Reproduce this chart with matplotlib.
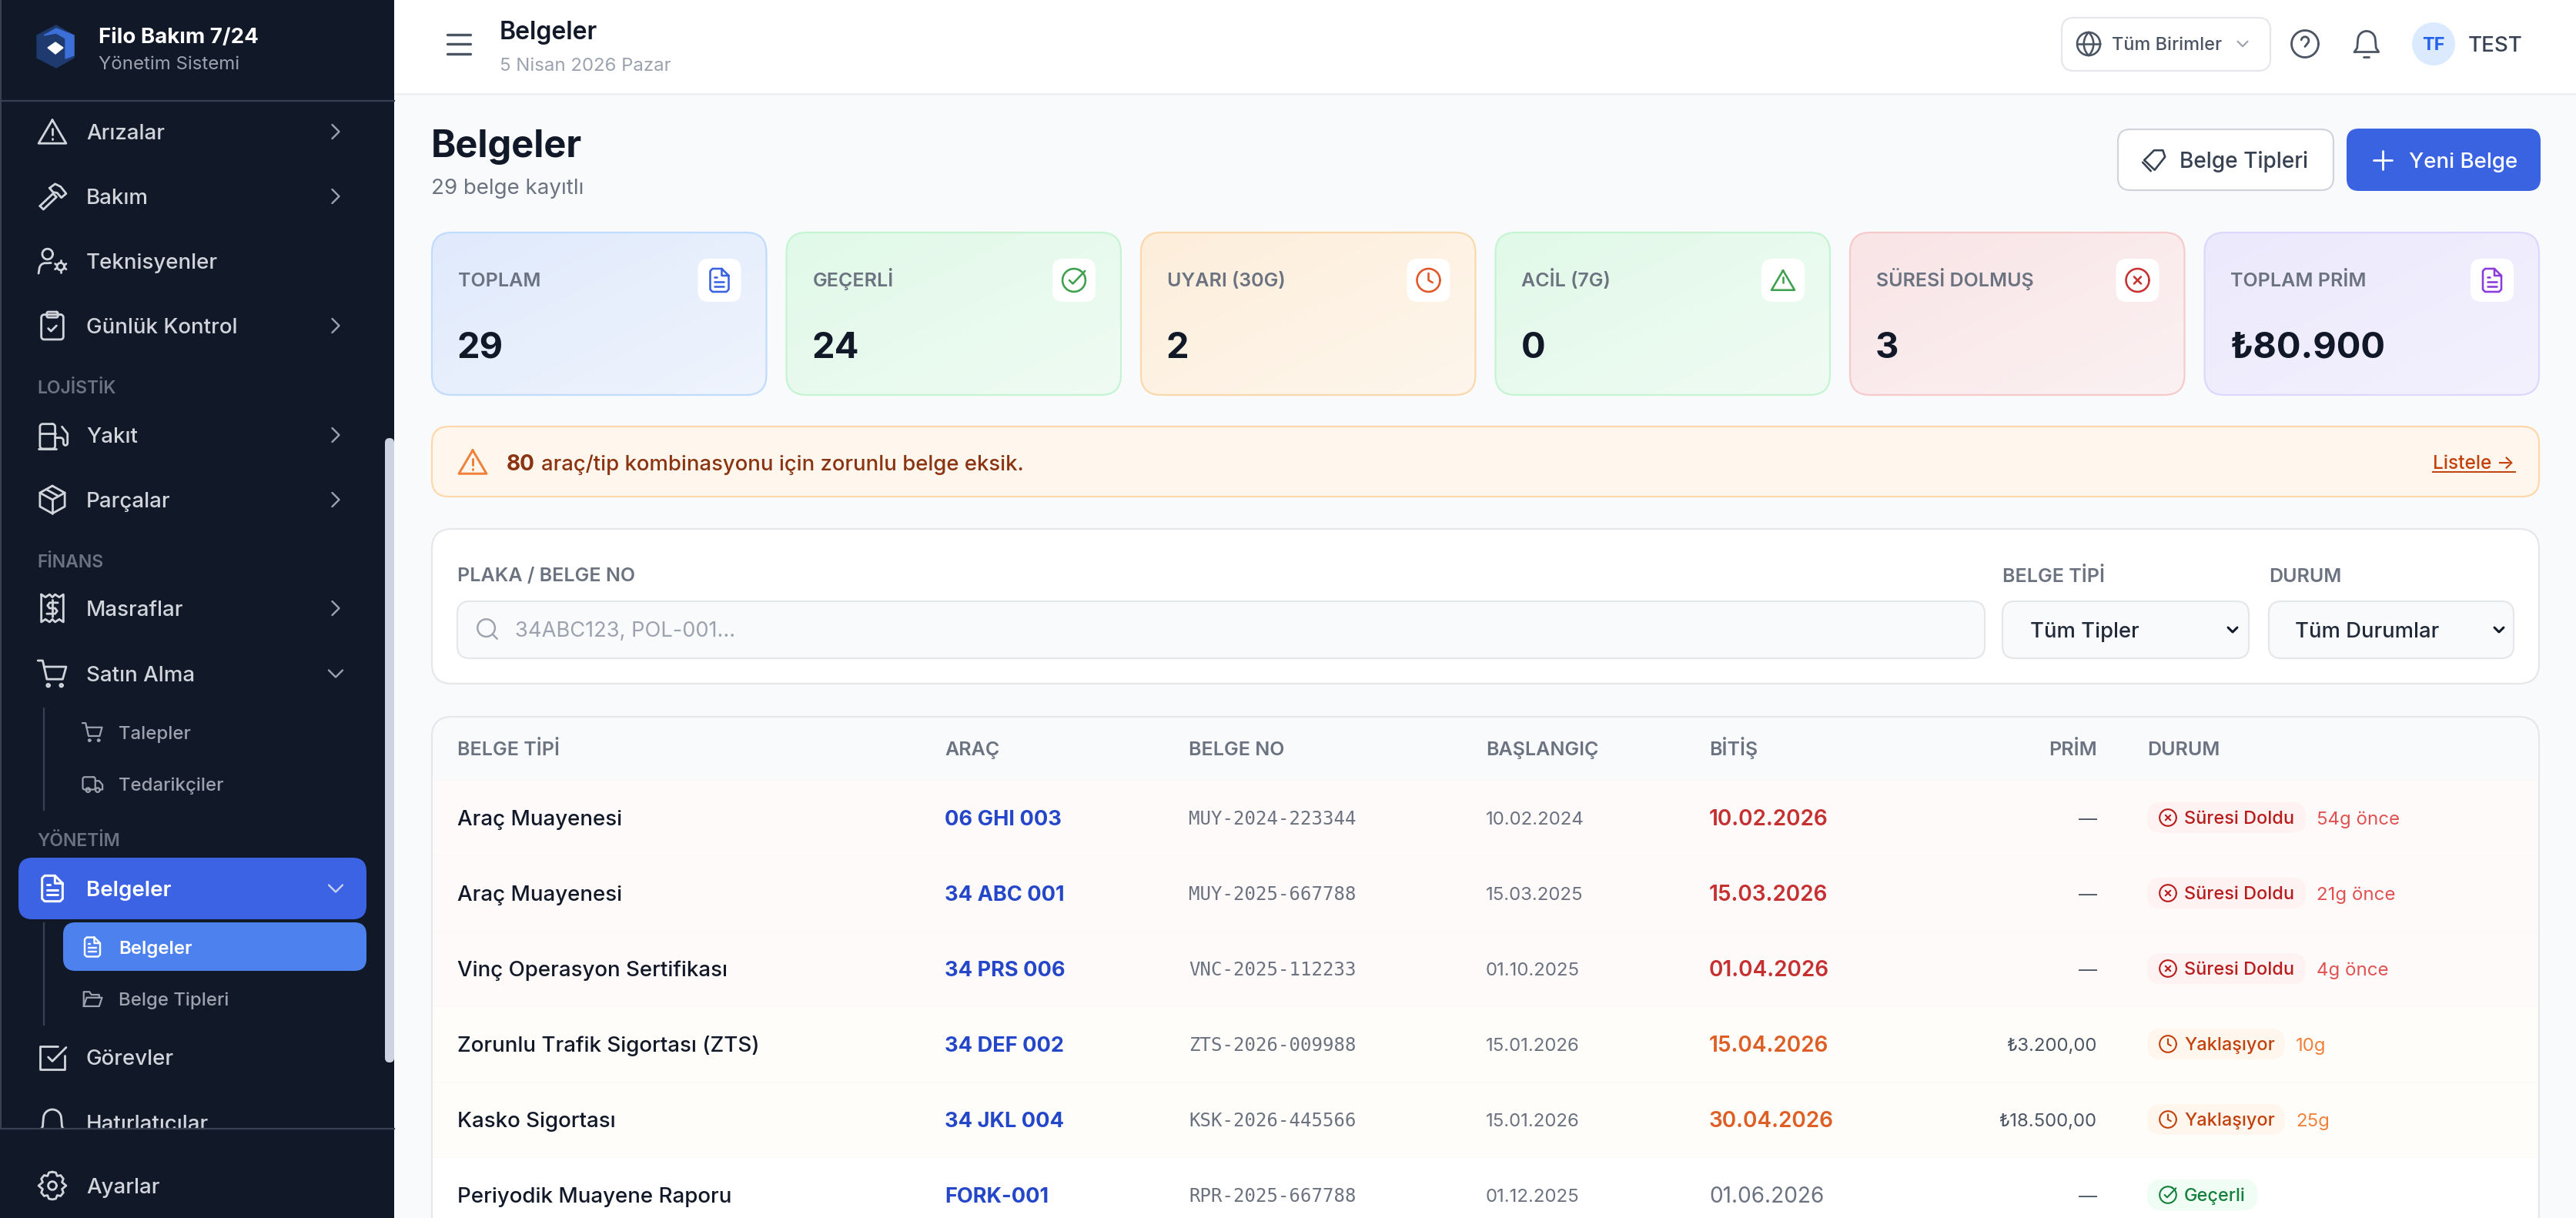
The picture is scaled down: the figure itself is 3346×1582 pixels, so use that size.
import numpy as np
import matplotlib
matplotlib.use('Agg')
import matplotlib.pyplot as plt
from matplotlib.patches import FancyBboxPatch, Circle, Rectangle
from matplotlib.colors import to_rgb

plt.rcParams['font.family'] = ['Inter', 'DejaVu Sans']

# sidebar
nav_labels = ['Arızalar', 'Bakım', 'Teknisyenler', 'Günlük Kontrol', 'Yakıt', 'Parçalar',
              'Masraflar', 'Satın Alma', 'Görevler', 'Hatırlatıcılar', 'Ayarlar']
nav_icons = ['alert', 'hammer', 'usercog', 'clipboard', 'fuel', 'box',
             'receipt', 'cart', 'checksq', 'bell', 'gear']
nav_arrows = ['r', 'r', '', 'r', 'r', 'r', 'r', 'd', '', '', '']
section_labels = ['LOJİSTİK', 'FİNANS', 'YÖNETİM']
sub_labels = ['Talepler', 'Tedarikçiler', 'Belge Tipleri']
sub_icons = ['cart', 'truck', 'folder']

# kpi cards
card_labels = ['TOPLAM', 'GEÇERLİ', 'UYARI (30G)', 'ACİL (7G)', 'SÜRESİ DOLMUŞ', 'TOPLAM PRİM']
card_values = ['29', '24', '2', '0', '3', '₺80.900']
card_icons = ['file', 'check', 'clock', 'alert', 'xcircle', 'file']

# table
table_headers = ['BELGE TİPİ', 'ARAÇ', 'BELGE NO', 'BAŞLANGIÇ', 'BİTİŞ', 'PRİM', 'DURUM']
doc_types = ['Araç Muayenesi', 'Araç Muayenesi', 'Vinç Operasyon Sertifikası',
             'Zorunlu Trafik Sigortası (ZTS)', 'Kasko Sigortası', 'Periyodik Muayene Raporu']
plates = ['06 GHI 003', '34 ABC 001', '34 PRS 006', '34 DEF 002', '34 JKL 004', 'FORK-001']
doc_numbers = ['MUY-2024-223344', 'MUY-2025-667788', 'VNC-2025-112233',
               'ZTS-2026-009988', 'KSK-2026-445566', 'RPR-2025-667788']
start_dates = ['10.02.2024', '15.03.2025', '01.10.2025', '15.01.2026', '15.01.2026', '01.12.2025']
end_dates = ['10.02.2026', '15.03.2026', '01.04.2026', '15.04.2026', '30.04.2026', '01.06.2026']
premiums = ['—', '—', '—', '₺3.200,00', '₺18.500,00', '—']
statuses = ['exp', 'exp', 'exp', 'soon', 'soon', 'ok']
status_notes = ['54g önce', '21g önce', '4g önce', '10g', '25g', '']

W, H = 3346, 1582
fig = plt.figure(figsize=(W / 100, H / 100), dpi=100)
ax = fig.add_axes([0, 0, 1, 1])
ax.axis('off')


def T(x, y, s, px, color='#111827', weight='normal', ha='left', family=None, **kw):
    # y is the middle of the capitals, px the text size in image pixels
    fam = family if family else ['Inter', 'DejaVu Sans']
    return ax.text(x, y + 0.36 * px, s, fontsize=px * 0.72, color=color, fontweight=weight,
                   ha=ha, va='baseline', family=fam, **kw)


def box(x0, y0, x1, y1, r, fc, ec='none', lw=0, z=1):
    p = FancyBboxPatch((x0, y0), x1 - x0, y1 - y0, boxstyle='round,pad=0,rounding_size=%s' % r,
                       fc=fc, ec=ec, lw=lw * 0.72, zorder=z)
    ax.add_patch(p)
    return p


def gradient_card(x0, y0, x1, y1, r, c0, c1, ec):
    p = box(x0, y0, x1, y1, r, 'none', ec, 2.2, z=2)
    u, v = np.meshgrid(np.linspace(0, 1, 64), np.linspace(0, 1, 64))
    t = ((u + v) / 2)[..., None]
    img = np.array(to_rgb(c0)) * (1 - t) + np.array(to_rgb(c1)) * t
    im = ax.imshow(img, extent=(x0, x1, y1, y0), aspect='auto', zorder=1, interpolation='bilinear')
    im.set_clip_path(p)


def arc(cx, cy, r, a0, a1, n=24):
    a = np.radians(np.linspace(a0, a1, n))
    return list(zip(cx + r * np.cos(a), cy + r * np.sin(a)))


def rrect(x, y, w, h, r):
    return (arc(x + w - r, y + r, r, -90, 0, 8) + arc(x + w - r, y + h - r, r, 0, 90, 8)
            + arc(x + r, y + h - r, r, 90, 180, 8) + arc(x + r, y + r, r, 180, 270, 8)
            + [(x + w - r, y)])


def circ(cx, cy, r):
    return arc(cx, cy, r, 0, 360, 40)


# icons as strokes on a 24 unit grid
ICONS = {
    'alert': [[(12, 3.5), (22, 20.5), (2, 20.5), (12, 3.5)], [(12, 9.5), (12, 14)], [(12, 17.2), (12, 17.4)]],
    'hammer': [[(3, 19), (12.5, 10), (15, 12.5), (5.5, 21.5), (3, 19)],
               [(10, 6), (14, 3), (18, 5), (22, 10), (18.5, 13), (15.5, 9.5), (12.5, 9), (10, 6)]],
    'usercog': [circ(8.5, 7, 3.8), [(2, 21)] + arc(7, 18, 4.5, 180, 280, 8) + [(11, 13.4)],
                circ(18, 16, 2.6), [(18, 11.5), (18, 12.6)], [(18, 19.4), (18, 20.5)],
                [(14, 14), (15, 14.8)], [(21, 17.2), (22, 18)], [(14, 18), (15, 17.2)], [(21, 14.8), (22, 14)]],
    'clipboard': [rrect(4, 4, 16, 18, 2), rrect(8, 2, 8, 4, 1), [(9, 14), (11, 16), (15, 12)]],
    'fuel': [rrect(3, 4, 11, 18, 2), [(3, 11), (14, 11)], [(2, 22), (15, 22)],
             [(14, 14), (16, 14)] + arc(18, 16, 2, -90, 0, 6) + [(20, 18)] + arc(21.5, 18, 1.5, 180, 0, 6)
             + [(23, 11), (19, 6)]],
    'box': [[(12, 2), (21, 7), (21, 17), (12, 22), (3, 17), (3, 7), (12, 2)],
            [(3, 7), (12, 12), (21, 7)], [(12, 12), (12, 22)], [(7.5, 4.5), (16.5, 9.5)]],
    'receipt': [[(4, 2), (4, 22), (7, 20), (10, 22), (12, 20), (14, 22), (17, 20), (20, 22), (20, 2),
                 (17, 4), (14, 2), (12, 4), (10, 2), (7, 4), (4, 2)],
                [(16, 8), (10, 8), (8.5, 10), (10, 12), (14, 12), (15.5, 14), (14, 16), (8, 16)], [(12, 6), (12, 18)]],
    'cart': [[(1.5, 2.5), (5, 2.5), (8, 16), (19.5, 16), (22, 7), (6, 7)], circ(9, 20.5, 1), circ(18.5, 20.5, 1)],
    'truck': [rrect(2, 5, 13, 13, 2), [(15, 9), (19, 9), (22.5, 13), (22.5, 18), (20, 18)],
              circ(7.5, 18.5, 2.2), circ(17.5, 18.5, 2.2)],
    'folder': [[(3, 20), (3, 5), (9, 5), (11, 8), (19, 8), (19, 11)], [(3, 20), (6, 11), (22, 11), (19, 20), (3, 20)]],
    'checksq': [[(21, 11), (21, 21), (3, 21), (3, 4), (16, 4)], [(9, 12), (12, 15), (22, 5)]],
    'bell': [[(3, 18), (5, 15), (5.5, 9)] + arc(12, 9, 6.5, 180, 360, 12) + [(19, 15), (21, 18), (3, 18)],
             [(10, 21.5), (14, 21.5)]],
    'gear': [circ(12, 12, 3), [(12, 2), (14.5, 2.5), (15.5, 5), (18, 4.5), (20, 7), (19, 9.5), (22, 12),
                               (19, 14.5), (20, 17), (18, 19.5), (15.5, 19), (14.5, 21.5), (12, 22), (9.5, 21.5),
                               (8.5, 19), (6, 19.5), (4, 17), (5, 14.5), (2, 12), (5, 9.5), (4, 7), (6, 4.5),
                               (8.5, 5), (9.5, 2.5), (12, 2)]],
    'file': [[(14, 2), (6, 2), (4, 4), (4, 20), (6, 22), (18, 22), (20, 20), (20, 8), (14, 2), (14, 8), (20, 8)],
             [(8, 13), (16, 13)], [(8, 17), (16, 17)], [(8, 9), (10, 9)]],
    'check': [arc(12, 12, 10, -60, 300), [(8, 12), (11, 15), (21.5, 4)]],
    'clock': [circ(12, 12, 10), [(12, 6), (12, 12), (15.5, 14)]],
    'xcircle': [circ(12, 12, 10), [(9, 9), (15, 15)], [(15, 9), (9, 15)]],
    'globe': [circ(12, 12, 10), [(2, 12), (22, 12)], [(12, 2)] + arc(2, 12, 14.2, -45, 45, 12),
              [(12, 2)] + arc(22, 12, 14.2, 225, 135, 12)],
    'help': [circ(12, 12, 10), arc(12, 9.5, 2.8, 190, 390, 10) + [(12, 14)], [(12, 17), (12, 17.2)]],
    'tag': [[(3, 12), (12, 3), (20, 3), (22, 9), (12.5, 21), (3, 12)], [(16, 7.5), (16, 7.7)],
            [(9, 22), (1.5, 14)]],
    'plus': [[(5, 12), (19, 12)], [(12, 5), (12, 19)]],
    'search': [circ(11, 11, 8), [(21, 21), (16.7, 16.7)]],
    'menu': [[(3, 4.5), (21, 4.5)], [(3, 12), (21, 12)], [(3, 19.5), (21, 19.5)]],
    'right': [[(9, 6), (15, 12), (9, 18)]],
    'down': [[(6, 9), (12, 15), (18, 9)]],
}


def icon(name, cx, cy, size, color, lw=3.0, z=5):
    k = size / 24
    for seg in ICONS[name]:
        a = np.array(seg)
        ax.plot(cx + (a[:, 0] - 12) * k, cy + (a[:, 1] - 12) * k, color=color, lw=lw * 0.72,
                solid_capstyle='round', solid_joinstyle='round', zorder=z)


# page background
ax.add_patch(Rectangle((512, 0), W - 512, H, fc='#f9fafb', ec='none', zorder=0))
ax.add_patch(Rectangle((512, 0), W - 512, 121, fc='white', ec='none', zorder=1))
ax.plot([512, W], [122, 122], color='#f0f1f3', lw=2, zorder=1)

# sidebar
ax.add_patch(Rectangle((0, 0), 512, H, fc='#111827', ec='none', zorder=1))
ax.plot([1, 1], [0, H], color='#3a4150', lw=1.5, zorder=2)
ax.plot([0, 512], [131, 131], color='#374151', lw=1.6, zorder=2)
ax.fill([48, 73, 96, 96, 73, 48], [46, 33, 46, 75, 88, 75], color='#1e3a6e', zorder=3)
ax.fill([57, 73, 96, 96, 85, 85, 73], [46, 37, 46, 72, 76, 50, 43], color='#3d6fd8', zorder=3)
ax.fill([62, 72, 82, 72], [62, 55, 62, 70], color='white', zorder=4)
T(128, 46, 'Filo Bakım 7/24', 27.7, 'white', 'bold')
T(128, 81, 'Yönetim Sistemi', 24, '#9ca3af')

nav_y = [171, 255, 339, 423, 565, 649, 790, 875, 1373, 1458, 1540]
for label, ic, arrow, y in zip(nav_labels, nav_icons, nav_arrows, nav_y):
    icon(ic, 68, y, 43, '#d1d5db', 2.8)
    T(112, y, label, 27.7, '#d1d5db', 'medium')
    if arrow == 'r':
        icon('right', 436, y, 36, '#9ca3af', 2.4)
    elif arrow == 'd':
        icon('down', 436, y, 36, '#9ca3af', 2.4)
ax.add_patch(Rectangle((0, 1466), 512, H - 1466, fc='#111827', ec='none', zorder=6))
ax.plot([0, 512], [1466, 1466], color='#374151', lw=1.6, zorder=7)
icon('gear', 68, 1540, 43, '#d1d5db', 2.8, z=8)
T(112, 1540, 'Ayarlar', 27.7, '#d1d5db', 'medium', zorder=8)

for label, y in zip(section_labels, [503, 729, 1091]):
    T(48, y, label, 23, '#6b7280', 'semibold')
for y0, y1 in [(920, 1052), (1199, 1331)]:
    ax.plot([57, 57], [y0, y1], color='#374151', lw=1.6, zorder=2)
for label, ic, y in zip(sub_labels, sub_icons, [951, 1018, 1297]):
    icon(ic, 120, y, 30, '#9ca3af', 2.2)
    T(154, y, label, 24, '#9ca3af', 'medium')
box(24, 1114, 476, 1194, 18, '#3b63e3', z=2)
icon('file', 68, 1154, 40, 'white', 3)
T(112, 1154, 'Belgeler', 27.7, 'white', 'semibold', zorder=5)
icon('down', 436, 1154, 36, '#c7d2f5', 2.4)
box(82, 1198, 476, 1261, 16, '#4d82ee', z=2)
icon('file', 120, 1230, 30, 'white', 2.4)
T(154, 1230, 'Belgeler', 24, 'white', 'semibold', zorder=5)
ax.add_patch(FancyBboxPatch((500, 569), 12, 811, boxstyle='round,pad=0,rounding_size=6', fc='#cdd3e0', ec='none', zorder=7))

# top bar
icon('menu', 596, 57, 40, '#4b5563', 3.4)
T(649, 39, 'Belgeler', 32, '#111827', 'semibold')
T(649, 83, '5 Nisan 2026 Pazar', 24, '#9ca3af')
box(2678, 23, 2949, 92, 16, 'white', '#e5e7eb', 2.2, z=2)
icon('globe', 2713, 57, 36, '#4b5563', 2.6)
T(2743, 57, 'Tüm Birimler', 23.5, '#4b5563', 'medium')
icon('down', 2913, 57, 26, '#9ca3af', 2.2)
icon('help', 2994, 57, 42, '#4b5563', 2.8)
icon('bell', 3074, 57, 42, '#4b5563', 2.8)
ax.add_patch(Circle((3161, 57), 28, fc='#dbeafe', ec='none', zorder=2))
T(3161, 57, 'TF', 23.5, '#2563eb', 'bold', ha='center')
T(3206, 57, 'TEST', 27.7, '#374151', 'medium')

# page header
T(560, 186, 'Belgeler', 48.8, '#111827', 'bold')
T(560, 242, '29 belge kayıtlı', 27.7, '#6b7280')
box(2751, 168, 3031, 247, 16, 'white', '#d1d5db', 2.2, z=2)
icon('tag', 2798, 208, 34, '#374151', 2.6)
T(2831, 208, 'Belge Tipleri', 28, '#374151', 'medium')
box(3048, 167, 3300, 248, 16, '#3a63e2', z=2)
icon('plus', 3095, 208, 40, 'white', 2.8)
T(3129, 208, 'Yeni Belge', 27.7, 'white', 'medium')

# cards
card_from = ['#e0eafc', '#e1f9e8', '#fdeedb', '#e1f9e8', '#f9e4e6', '#ece9fc']
card_to = ['#eff4fd', '#effbf3', '#fef6ec', '#f0fbf4', '#fbf1f2', '#f3f1fe']
card_edge = ['#bfdbfe', '#c5f4d3', '#fbd8ab', '#c5f4d3', '#f6caca', '#ddd6fe']
card_ic = ['#3a63e2', '#3fa04f', '#e0582a', '#3fa04f', '#c83232', '#8b3ddb']
card_w = 434.5
for i in range(6):
    x0 = 561 + i * (card_w + 26)
    x1 = x0 + card_w
    gradient_card(x0, 302, x1, 513, 26, card_from[i], card_to[i], card_edge[i])
    T(x0 + 34, 363, card_labels[i], 25, '#6b7280', 'semibold', zorder=5)
    T(x0 + 33, 448, card_values[i], 47, '#111827', 'bold', zorder=5)
    box(x1 - 89, 336, x1 - 33, 392, 14, 'white', z=3)
    icon(card_icons[i], x1 - 61, 364, 36, card_ic[i], 2.6)

# alert bar
box(561, 554, 3298, 645, 22, '#fff7ed', '#fed7aa', 2.2, z=2)
icon('alert', 614, 600, 43, '#f0813a', 3)
T(658, 601, '80', 28, '#8a3412', 'bold')
T(703, 601, 'araç/tip kombinasyonu için zorunlu belge eksik.', 27.5, '#8a3412', 'medium')
T(3160, 600, 'Listele →', 24.5, '#c2410c', 'medium')
ax.plot([3160, 3267], [613, 613], color='#c2410c', lw=1.4, zorder=5)

# filters
box(561, 687, 3298, 888, 26, 'white', '#e5e7eb', 2.2, z=2)
T(594, 746, 'PLAKA / BELGE NO', 25, '#6b7280', 'semibold')
T(2601, 747, 'BELGE TİPİ', 25, '#6b7280', 'semibold')
T(2947, 747, 'DURUM', 25, '#6b7280', 'semibold')
box(594, 781, 2578, 855, 16, '#f9fafb', '#e5e7eb', 2.2, z=3)
icon('search', 633, 817, 34, '#9ca3af', 2.4)
T(669, 817, '34ABC123, POL-001...', 27.3, '#9ca3af')
box(2601, 781, 2921, 855, 16, '#f9fafb', '#e5e7eb', 2.2, z=3)
T(2637, 818, 'Tüm Tipler', 27.4, '#1f2937', 'medium')
icon('down', 2900, 818, 24, '#111827', 3)
box(2947, 781, 3265, 855, 16, '#f9fafb', '#e5e7eb', 2.2, z=3)
T(2981, 818, 'Tüm Durumlar', 27.4, '#1f2937', 'medium')
icon('down', 3246, 818, 24, '#111827', 3)

# table
box(561, 931, 3298, 1700, 26, '#f9fafb', '#e5e7eb', 2.2, z=2)
col_x = [594, 1227, 1544, 1930, 2220, 2724, 2789]
for i, (h, x) in enumerate(zip(table_headers, col_x)):
    T(x, 972, h, 25, '#6b7280', 'semibold', ha='right' if h == 'PRİM' else 'left')
row_bg = {'exp': '#fffafa', 'soon': '#fffdf9', 'ok': 'white'}
badge_bg = {'exp': '#fef2f2', 'soon': '#fff7ed', 'ok': '#f0fdf4'}
badge_fg = {'exp': '#b91c1c', 'soon': '#c2410c', 'ok': '#15803d'}
badge_ic = {'exp': 'xcircle', 'soon': 'clock', 'ok': 'check'}
badge_txt = {'exp': 'Süresi Doldu', 'soon': 'Yaklaşıyor', 'ok': 'Geçerli'}
badge_end = {'exp': 2995, 'soon': 2968, 'ok': 2932}
note_col = {'exp': '#e05252', 'soon': '#f0813a', 'ok': '#6b7280'}
end_col = {'exp': '#c53030', 'soon': '#dd5f26', 'ok': '#6b7280'}
for i, st in enumerate(statuses):
    y = 1062 + 98 * i
    ax.add_patch(Rectangle((562.5, y - 49), 3296.5 - 562.5, 98, fc=row_bg[st], ec='none', zorder=3))
    ax.plot([562.5, 3296.5], [y - 49, y - 49], color='#faf8f8', lw=0.9, zorder=3)
    T(col_x[0], y, doc_types[i], 27.7, '#111827', 'medium')
    T(col_x[1], y, plates[i], 27.2, '#2447c9', 'bold')
    T(col_x[2], y, doc_numbers[i], 24, '#6b7280', family='DejaVu Sans Mono')
    T(col_x[3], y, start_dates[i], 24, '#6b7280')
    T(col_x[4], y, end_dates[i], 28, end_col[st], 'semibold' if st != 'ok' else 'normal')
    T(col_x[5], y, premiums[i], 24, '#4b5563', ha='right')
    box(col_x[6], y - 20, badge_end[st], y + 20, 18, badge_bg[st], z=4)
    icon(badge_ic[st], 2816, y, 26, badge_fg[st], 2.1)
    T(2837, y, badge_txt[st], 23.5, badge_fg[st], 'medium', zorder=5)
    T(badge_end[st] + 14, y, status_notes[i], 24, note_col[st], zorder=5)

ax.set_xlim(0, W)
ax.set_ylim(H, 0)
fig.savefig('out.png', dpi=100)
